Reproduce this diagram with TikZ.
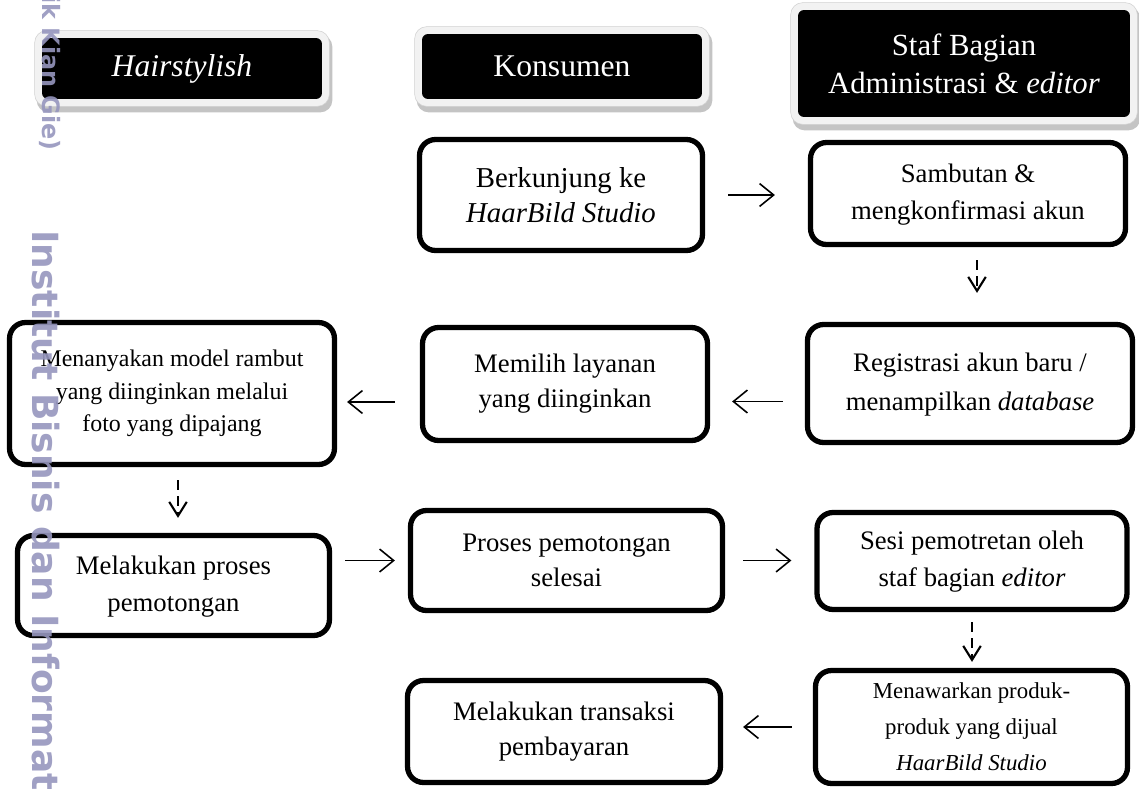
\documentclass[tikz,border=0pt]{standalone}
\usepackage{fontspec}
\setmainfont{Liberation Serif}
\newfontfamily\wmfont{DejaVu Sans}
\usetikzlibrary{arrows.meta,calc,backgrounds}
\definecolor{wm}{RGB}{150,150,190}
\definecolor{framegray}{RGB}{242,242,242}
\definecolor{shadowgray}{RGB}{196,196,196}
\newcommand{\lowered}[2]{\raisebox{#1}{\begin{tabular}{@{}c@{}}#2\end{tabular}}}
\begin{document}
\begin{tikzpicture}[x=0.02cm,y=-0.02cm,
  box/.style={draw=black, line width=3pt, rounded corners=0.32cm, align=center, inner sep=0pt},
  hdr/.style={fill=black, text=white, rounded corners=0.12cm, align=center, inner sep=0pt},
  harr/.style={line width=0.9pt, -{Straight Barb[length=8pt,width=13pt,line width=0.9pt]}},
  darr/.style={line width=1.2pt, dash pattern=on 0.2cm off 0.12cm, -{Straight Barb[length=8pt,width=10pt,line width=1.2pt]}},
  hframe/.style={fill=framegray, draw=gray!35, line width=0.3pt, rounded corners=0.24cm},
  hshadow/.style={fill=shadowgray, rounded corners=0.24cm},
  wmtext/.style={text=wm, opacity=0.9, inner sep=0pt}
]
\useasboundingbox (0,0) rectangle (1139,788);

% header nodes
\node[hdr, minimum width=5.6cm, minimum height=1.22cm, font=\fontsize{18}{21}\selectfont\itshape] (h1) at (182,68.5) {Hairstylish};
\node[hdr, minimum width=5.6cm, minimum height=1.3cm, font=\fontsize{18}{21}\selectfont] (h2) at (562,66.5) {Konsumen};
\node[hdr, minimum width=6.64cm, minimum height=2.14cm, font=\fontsize{17.5}{21.6}\selectfont] (h3) at (964,63.5) {Staf Bagian\\Administrasi \& \textit{editor}};

\begin{scope}[on background layer]
  \fill[white] (0,0) rectangle (1139,788);
  \foreach \h in {h1,h2,h3}{
    \fill[hshadow] ([shift={(-5,-3)}]\h.north west) rectangle ([shift={(10,13)}]\h.south east);
    \path[hframe] ([shift={(-7,-7)}]\h.north west) rectangle ([shift={(7,7)}]\h.south east);
  }
\end{scope}

% process boxes
\node[box, minimum width=5.66cm, minimum height=2.22cm, font=\fontsize{16.4}{19.9}\selectfont] (b1) at (561,195) {Berkunjung ke\\\textit{HaarBild Studio}};
\node[box, minimum width=6.3cm, minimum height=2.04cm, font=\fontsize{15.2}{21}\selectfont] (b2) at (968,193.5) {\lowered{-0.1cm}{Sambutan \&\\mengkonfirmasi akun}};
\node[box, minimum width=6.5cm, minimum height=2.36cm, font=\fontsize{15.2}{22}\selectfont] (b3) at (970,383.5) {\lowered{-0.2cm}{Registrasi akun baru /\\menampilkan \textit{database}}};
\node[box, minimum width=5.7cm, minimum height=2.26cm, font=\fontsize{15.2}{20}\selectfont] (b4) at (565,384) {Memilih layanan\\yang diinginkan};
\node[box, minimum width=6.5cm, minimum height=2.84cm, font=\fontsize{13.6}{18.5}\selectfont] (b5) at (172,393.5) {Menanyakan model rambut\\yang diinginkan melalui\\foto yang dipajang};
\node[box, minimum width=6.24cm, minimum height=2.0cm, font=\fontsize{15.2}{21}\selectfont] (b6) at (173.5,585.5) {\lowered{-0.06cm}{Melakukan proses\\pemotongan}};
\node[box, minimum width=6.24cm, minimum height=2.0cm, font=\fontsize{15.2}{20}\selectfont] (b7) at (566.5,560.5) {Proses pemotongan\\selesai};
\node[box, minimum width=6.2cm, minimum height=1.94cm, font=\fontsize{15.2}{21}\selectfont] (b8) at (972,561) {\lowered{-0.1cm}{Sesi pemotretan oleh\\staf bagian \textit{editor}}};
\node[box, minimum width=6.24cm, minimum height=2.26cm, font=\fontsize{13}{20.5}\selectfont] (b9) at (971.5,727) {\lowered{-0.06cm}{Menawarkan produk-\\produk yang dijual\\\textit{HaarBild Studio}}};
\node[box, minimum width=6.26cm, minimum height=2.04cm, font=\fontsize{15.2}{20}\selectfont] (b10) at (564,731.5) {Melakukan transaksi\\pembayaran};

% connectors
\draw[harr, shorten <=0.46cm, shorten >=0.66cm] (b1.east) -- (b1.east -| b2.west);
\draw[darr, shorten <=0.26cm, shorten >=0.58cm] ([xshift=0.18cm]b2.south) -- ([xshift=0.18cm]b2.south |- b3.north);
\draw[harr, shorten <=0.44cm, shorten >=0.44cm] ([yshift=-0.36cm]b3.west) -- ([yshift=-0.36cm]b3.west -| b4.east);
\draw[harr, shorten <=0.5cm, shorten >=0.2cm] ([yshift=-0.36cm]b4.west) -- ([yshift=-0.36cm]b4.west -| b5.east);
\draw[darr, shorten <=0.26cm, shorten >=0.3cm] ([xshift=0.12cm]b5.south) -- ([xshift=0.12cm]b5.south |- b6.north);
\draw[harr, shorten <=0.26cm, shorten >=0.26cm] (b7.west -| b6.east) -- (b7.west);
\draw[harr, shorten <=0.36cm, shorten >=0.46cm] (b7.east) -- (b7.east -| b8.west);
\draw[darr, shorten <=0.2cm, shorten >=0.12cm] (b8.south) -- (b8.south |- b9.north);
\draw[harr, shorten <=0.42cm, shorten >=0.4cm] (b9.west) -- (b9.west -| b10.east);

% watermark
\begin{scope}
  \clip (0,0) rectangle (1139,788);
  \node[wmtext, rotate=-90, anchor=east, font=\wmfont\bfseries\fontsize{13.6}{13.6}\selectfont] (wm1) at (50,151) {Kwik Kian Gie)};
  \node[wmtext, rotate=-90, anchor=west, font=\wmfont\bfseries\fontsize{20.5}{20.5}\selectfont] (wm2) at (46,230) {Institut Bisnis dan Informatika};
\end{scope}
\end{tikzpicture}
\end{document}
